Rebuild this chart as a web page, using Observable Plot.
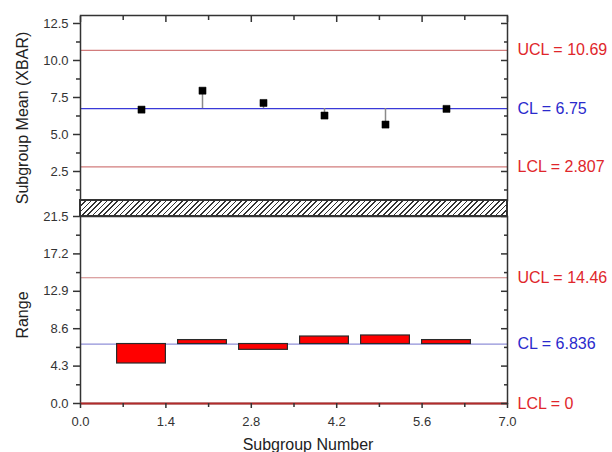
<!DOCTYPE html>
<html><head><meta charset="utf-8">
<script src="https://cdn.jsdelivr.net/npm/d3@7"></script>
<script src="https://cdn.jsdelivr.net/npm/@observablehq/plot@0.6"></script>
<style>
html,body{margin:0;padding:0;background:#fff;}
#wrap{position:relative;width:612px;height:452px;overflow:hidden;font-family:"Liberation Sans",Arial,sans-serif;background:#fff;}
#topPanel,#bottomPanel{position:absolute;left:0;}
#topPanel{top:0}
#bottomPanel{top:200px}
#hatch{position:absolute;left:79px;top:199px;width:429px;height:18px;box-sizing:border-box;border:2px solid #333;
background:repeating-linear-gradient(135deg,#fff 0 2.6px,#333 2.6px 3.8px);}
</style></head>
<body><div id="wrap"><div id="topPanel"></div><div id="bottomPanel"></div><div id="hatch"></div></div>
<script>
// ---- data ----
const subgroups = [1, 2, 3, 4, 5, 6];
const xbarMeans = [6.68, 7.96, 7.13, 6.28, 5.67, 6.73];
const ranges = [4.60, 7.29, 6.17, 7.70, 7.82, 7.29];
const limitNames = ["UCL", "CL", "LCL"];
const xbarLimitValues = [10.69, 6.75, 2.807];
const xbarLimitLabels = ["UCL = 10.69", "CL = 6.75", "LCL = 2.807"];
const rangeLimitValues = [14.46, 6.836, 0];
const rangeLimitLabels = ["UCL = 14.46", "CL = 6.836", "LCL = 0"];
const xTicks = [0, 1.4, 2.8, 4.2, 5.6, 7.0];
const xMinorTicks = [0.7, 2.1, 3.5, 4.9, 6.3];
const xbarTicks = [2.5, 5.0, 7.5, 10.0, 12.5];
const xbarMinorTicks = [1.25, 3.75, 6.25, 8.75, 11.25];
const rangeTicks = [0, 4.3, 8.6, 12.9, 17.2, 21.5];
const rangeMinorTicks = [2.15, 6.45, 10.75, 15.05, 19.35];
const xDomain = [0, 7];
const xbarDomain = [0.54, 13.04];
const rangeDomain = [0, 21.5];
const barHalfWidth = 0.4;
const xLabel = "Subgroup Number";
const xbarLabel = "Subgroup Mean (XBAR)";
const rangeLabel = "Range";

// ---- styles ----
const ruleColor = {UCL: "#d27c7c", CL: "#3a3ad8", LCL: "#d27c7c"};
const rangeRuleColor = {UCL: "#d08484", CL: "#9090d8", LCL: "#b32a2a"};
const textColor = {UCL: "#e0262b", CL: "#2a2acc", LCL: "#e0262b"};
const fmt = d3.format(".1f");
const blank = () => "";

const xbarRows = subgroups.map((s, i) => ({x: s, y: xbarMeans[i]}));
const rangeRows = subgroups.map((s, i) => ({x: s, y: ranges[i]}));
const xbarLimits = limitNames.map((n, i) => ({name: n, value: xbarLimitValues[i], label: xbarLimitLabels[i]}));
const rangeLimits = limitNames.map((n, i) => ({name: n, value: rangeLimitValues[i], label: rangeLimitLabels[i]}));
const xbarCL = xbarLimitValues[1];
const rangeCL = rangeLimitValues[1];

const baseStyle = {fontFamily: "'Liberation Sans', Arial, sans-serif", fontSize: "13px", color: "#333", background: "transparent", overflow: "visible"};

const topChart = Plot.plot({
  width: 612, height: 216,
  marginLeft: 80, marginRight: 105, marginTop: 15, marginBottom: 16,
  style: baseStyle,
  x: {domain: xDomain},
  y: {domain: xbarDomain},
  color: {type: "identity"},
  marks: [
    Plot.ruleY(xbarLimits, {y: "value", stroke: d => ruleColor[d.name], strokeWidth: 1.3}),
    Plot.ruleX(xbarRows, {x: "x", y1: () => xbarCL, y2: "y", stroke: "#8a8a8a", strokeWidth: 1.5}),
    Plot.dot(xbarRows, {x: "x", y: "y", symbol: "square", r: 4, fill: "#000", stroke: "#000", strokeWidth: 0.5}),
    Plot.frame({stroke: "#333", strokeWidth: 1.5}),
    Plot.axisY({ticks: xbarTicks, tickFormat: fmt, tickSize: 7, tickPadding: 5, anchor: "left", label: null, fontSize: 13, stroke: "#333", strokeWidth: 1.5}),
    Plot.axisY({ticks: xbarMinorTicks, tickFormat: blank, tickSize: 4, anchor: "left", label: null, stroke: "#333", strokeWidth: 1.5}),
    Plot.axisY({ticks: xbarTicks, tickFormat: blank, tickSize: -7, anchor: "right", label: null, stroke: "#333", strokeWidth: 1.5}),
    Plot.axisY({ticks: xbarMinorTicks, tickFormat: blank, tickSize: -4, anchor: "right", label: null, stroke: "#333", strokeWidth: 1.5}),
    Plot.axisX({ticks: xTicks, tickFormat: blank, tickSize: -6, anchor: "top", label: null, stroke: "#333", strokeWidth: 1.5}),
    Plot.axisX({ticks: xMinorTicks, tickFormat: blank, tickSize: -4, anchor: "top", label: null, stroke: "#333", strokeWidth: 1.5}),
    Plot.text(xbarLimits, {y: "value", text: "label", frameAnchor: "right", dx: 10, textAnchor: "start", fill: d => textColor[d.name], fontSize: 16}),
    Plot.text([xbarLabel], {text: d => d, frameAnchor: "left", textAnchor: "middle", lineAnchor: "middle", rotate: -90, dx: -58, dy: 10, fontSize: 16, fill: "#222"})
  ]
});
document.getElementById("topPanel").appendChild(topChart);

const bottomChart = Plot.plot({
  width: 612, height: 252,
  marginLeft: 80, marginRight: 105, marginTop: 16, marginBottom: 49,
  style: baseStyle,
  x: {domain: xDomain},
  y: {domain: rangeDomain},
  color: {type: "identity"},
  marks: [
    Plot.ruleY(rangeLimits.filter(d => d.name !== "LCL"), {y: "value", stroke: d => rangeRuleColor[d.name], strokeWidth: 1.2}),
    Plot.rectY(rangeRows, {x1: d => d.x - barHalfWidth, x2: d => d.x + barHalfWidth, y1: () => rangeCL, y2: "y", fill: "#ff0000", stroke: "#2a2a2a", strokeWidth: 1.2}),
    Plot.frame({stroke: "#333", strokeWidth: 1.5}),
    Plot.ruleY(rangeLimits.filter(d => d.name === "LCL"), {y: "value", stroke: d => rangeRuleColor[d.name], strokeWidth: 2}),
    Plot.axisY({ticks: rangeTicks, tickFormat: fmt, tickSize: 7, tickPadding: 5, anchor: "left", label: null, fontSize: 13, stroke: "#333", strokeWidth: 1.5}),
    Plot.axisY({ticks: rangeMinorTicks, tickFormat: blank, tickSize: 4, anchor: "left", label: null, stroke: "#333", strokeWidth: 1.5}),
    Plot.axisY({ticks: rangeTicks, tickFormat: blank, tickSize: -7, anchor: "right", label: null, stroke: "#333", strokeWidth: 1.5}),
    Plot.axisY({ticks: rangeMinorTicks, tickFormat: blank, tickSize: -4, anchor: "right", label: null, stroke: "#333", strokeWidth: 1.5}),
    Plot.axisX({ticks: xTicks, tickFormat: fmt, tickSize: 5, tickPadding: 8, anchor: "bottom", label: null, fontSize: 13, stroke: "#333", strokeWidth: 1.5}),
    Plot.axisX({ticks: xMinorTicks, tickFormat: blank, tickSize: 4, anchor: "bottom", label: null, stroke: "#333", strokeWidth: 1.5}),
    Plot.text(rangeLimits, {y: "value", text: "label", frameAnchor: "right", dx: 10, textAnchor: "start", fill: d => textColor[d.name], fontSize: 16}),
    Plot.text([rangeLabel], {text: d => d, frameAnchor: "left", textAnchor: "middle", lineAnchor: "middle", rotate: -90, dx: -58, dy: 5, fontSize: 16, fill: "#222"}),
    Plot.text([xLabel], {text: d => d, frameAnchor: "bottom", textAnchor: "middle", lineAnchor: "middle", dx: 14, dy: 41, fontSize: 16, fill: "#222"})
  ]
});
document.getElementById("bottomPanel").appendChild(bottomChart);
</script>
</body></html>
